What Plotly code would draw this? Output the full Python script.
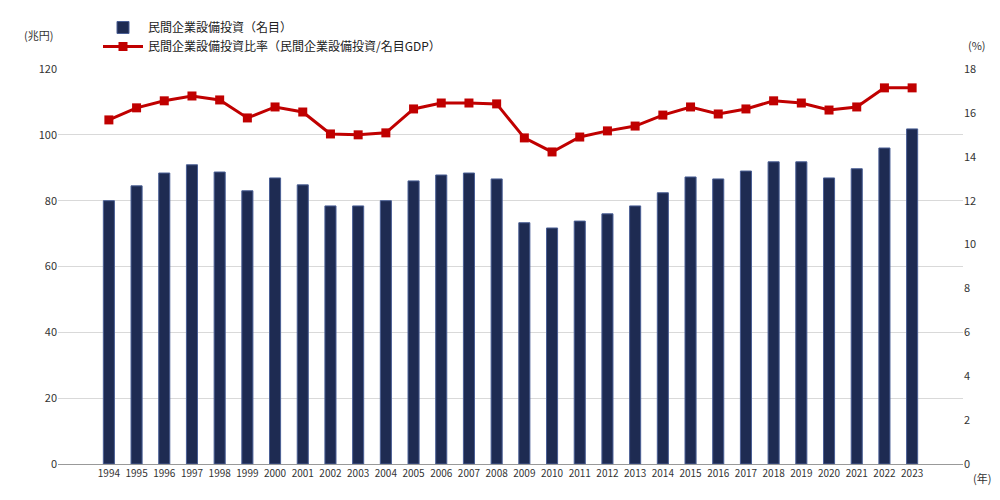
import plotly.graph_objects as go

years = [str(y) for y in range(1994, 2024)]
invest = [80, 84.5, 88.4, 90.9, 88.7, 83, 86.9, 84.8, 78.4, 78.4, 80, 86, 87.8, 88.4, 86.6,
          73.3, 71.7, 73.8, 76, 78.4, 82.4, 87.2, 86.6, 89, 91.8, 91.8, 86.9, 89.7, 96, 101.8]
ratio = [15.68, 16.23, 16.55, 16.77, 16.59, 15.77, 16.27, 16.04, 15.04, 15.0, 15.09, 16.18,
         16.45, 16.45, 16.41, 14.86, 14.22, 14.9, 15.18, 15.4, 15.9, 16.27, 15.95, 16.18,
         16.55, 16.45, 16.13, 16.27, 17.14, 17.14]

fig = go.Figure()
fig.add_trace(go.Bar(x=years, y=invest, name="民間企業設備投資（名目）", width=0.4,
                     marker=dict(color="#1e2b52", line=dict(color="#4a5f95", width=1))))
fig.add_trace(go.Scatter(x=years, y=ratio, name="民間企業設備投資比率（民間企業設備投資/名目GDP）",
                         yaxis="y2", mode="lines+markers",
                         line=dict(color="#c00000", width=3),
                         marker=dict(symbol="square", size=9, color="#c00000")))
font = dict(family="Noto Sans CJK JP", size=11, color="#333")
fig.update_layout(
    width=1000, height=500, plot_bgcolor="white", paper_bgcolor="white",
    margin=dict(l=50, r=45, t=61, b=44, autoexpand=False), font=font,
    xaxis=dict(type="category", showgrid=False, tickfont=dict(size=10),
               showline=True, linecolor="#999", automargin=False),
    yaxis=dict(range=[0, 120], dtick=20, gridcolor="#d9d9d9", zeroline=False, automargin=False),
    yaxis2=dict(range=[0, 18], dtick=2, overlaying="y", side="right", showgrid=False,
                automargin=False),
    legend=dict(x=90, y=492, xref="container", yref="container", xanchor="left",
                yanchor="top", bgcolor="rgba(0,0,0,0)", itemwidth=40,
                font=dict(size=12, color="#222"), tracegroupgap=8),
    showlegend=True,
    annotations=[
        dict(text="(兆円)", x=10, y=482, xref="paper", yref="paper", showarrow=False),
    ],
)
fig.layout.annotations = [
    dict(text="(兆円)", x=0.01, y=0.965, xref="paper", yref="paper", xanchor="left",
         showarrow=False, yanchor="middle").__class__(text="(兆円)", x=-0.04, y=1.085,
         xref="paper", yref="paper", xanchor="left", yanchor="middle", showarrow=False),
    dict(text="(%)", x=1.0, y=1.06, xref="paper", yref="paper", xanchor="right",
         yanchor="middle", showarrow=False, xshift=25),
    dict(text="(年)", x=1.0, y=0, xref="paper", yref="paper", xanchor="left",
         yanchor="top", showarrow=False, xshift=8, yshift=-4),
]
fig.update_layout(legend=dict(x=0.09, y=0.99, xref="container", yref="container"))
fig.write_html("out.html")
